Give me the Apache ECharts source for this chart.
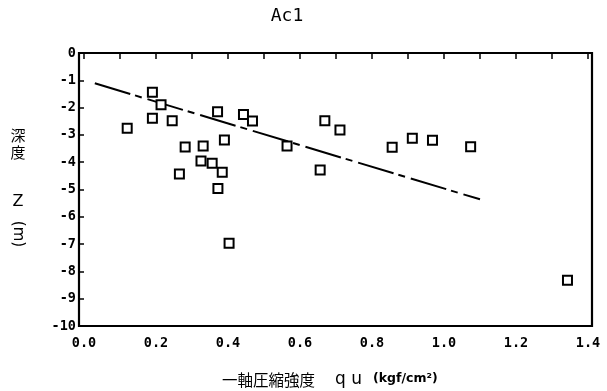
<!DOCTYPE html>
<html>
<head>
<meta charset="utf-8">
<script src="https://cdn.jsdelivr.net/npm/echarts@6/dist/echarts.min.js"></script>
<style>html,body{margin:0;padding:0;background:#fff}#c{width:607px;height:391px}</style>
</head>
<body>
<div id="c"></div>
<script>
// Data
const quValues = [0.120, 0.190, 0.214, 0.190, 0.245, 0.371, 0.443, 0.468, 0.564, 0.281, 0.331, 0.390, 0.325, 0.356, 0.384, 0.265, 0.372, 0.403, 0.669, 0.711, 0.656, 0.856, 0.912, 0.968, 1.074, 1.343];
const depthValues = [-2.76, -1.44, -1.90, -2.39, -2.48, -2.15, -2.25, -2.49, -3.41, -3.44, -3.41, -3.19, -3.96, -4.04, -4.37, -4.43, -4.96, -6.97, -2.48, -2.82, -4.29, -3.45, -3.12, -3.20, -3.43, -8.32];
const trendX = [0.03, 1.10];
const trendY = [-1.11, -5.36];
const titleText = 'Ac1';
const xTitleMain = '一軸圧縮強度';
const xTitleSym = 'q u';
const xTitleUnit = '(kgf/cm²)';

const chart = echarts.init(document.getElementById('c'), null, {renderer: 'canvas'});
const labelFont = {fontFamily: 'DejaVu Sans Mono', fontWeight: 'bold', fontSize: 13.5, color: '#000'};

chart.setOption({
  animation: false,
  backgroundColor: '#fff',
  grid: {left: 84, right: 19, top: 53, bottom: 65, containLabel: false},
  xAxis: {
    type: 'value', min: 0, max: 1.4, interval: 0.1,
    axisLine: {show: false},
    axisTick: {show: true, length: 6, lineStyle: {color: '#000', width: 1.5}},
    splitLine: {show: false},
    axisLabel: Object.assign({}, labelFont, {
      margin: 10,
      formatter: function (v) {
        const k = Math.round(v * 10);
        return k % 2 === 0 ? (k / 10).toFixed(1) : '';
      }
    })
  },
  yAxis: {
    type: 'value', min: -10, max: 0, interval: 1, offset: 5,
    axisLine: {show: false},
    axisTick: {show: true, length: 6, lineStyle: {color: '#000', width: 1.5}},
    splitLine: {show: false},
    axisLabel: Object.assign({}, labelFont, {margin: 3})
  },
  series: [
    {
      type: 'line',
      data: trendX.map((x, i) => [x, trendY[i]]),
      symbol: 'none',
      lineStyle: {color: '#000', width: 2, type: [37, 5, 7, 6]},
      z: 2
    },
    {
      type: 'scatter',
      data: quValues.map((x, i) => [x, depthValues[i]]),
      symbol: 'rect',
      symbolSize: 9,
      itemStyle: {color: '#fff', borderColor: '#000', borderWidth: 2, opacity: 1},
      z: 3
    }
  ],
  graphic: [
    {type: 'rect', shape: {x: 79, y: 53, width: 513, height: 273}, style: {fill: null, stroke: '#000', lineWidth: 2.2}, z: 10, silent: true},
    {type: 'text', x: 287, y: 16, style: {text: titleText, font: '18px "DejaVu Sans Mono"', fill: '#000', align: 'center', verticalAlign: 'middle'}},
    {type: 'text', x: 18, y: 135, style: {text: '深', font: '15px "Noto Sans CJK JP"', fill: '#000', align: 'center', verticalAlign: 'middle'}},
    {type: 'text', x: 18, y: 152, style: {text: '度', font: '15px "Noto Sans CJK JP"', fill: '#000', align: 'center', verticalAlign: 'middle'}},
    {type: 'text', x: 18, y: 202, style: {text: 'Z', font: '16px "DejaVu Sans"', fill: '#000', align: 'center', verticalAlign: 'middle'}},
    {type: 'text', x: 18, y: 234, rotation: -Math.PI / 2, style: {text: '(m)', font: '15px "DejaVu Sans"', fill: '#000', align: 'center', verticalAlign: 'middle'}},
    {type: 'text', x: 222, y: 380, style: {text: xTitleMain, font: '15.5px "Noto Sans CJK JP"', fill: '#000', align: 'left', verticalAlign: 'middle'}},
    {type: 'text', x: 335, y: 380, style: {text: xTitleSym, font: '17px "DejaVu Sans"', fill: '#000', align: 'left', verticalAlign: 'middle'}},
    {type: 'text', x: 373, y: 379, style: {text: xTitleUnit, font: 'bold 12.5px "DejaVu Sans"', fill: '#000', align: 'left', verticalAlign: 'middle'}}
  ]
});
</script>
</body>
</html>
